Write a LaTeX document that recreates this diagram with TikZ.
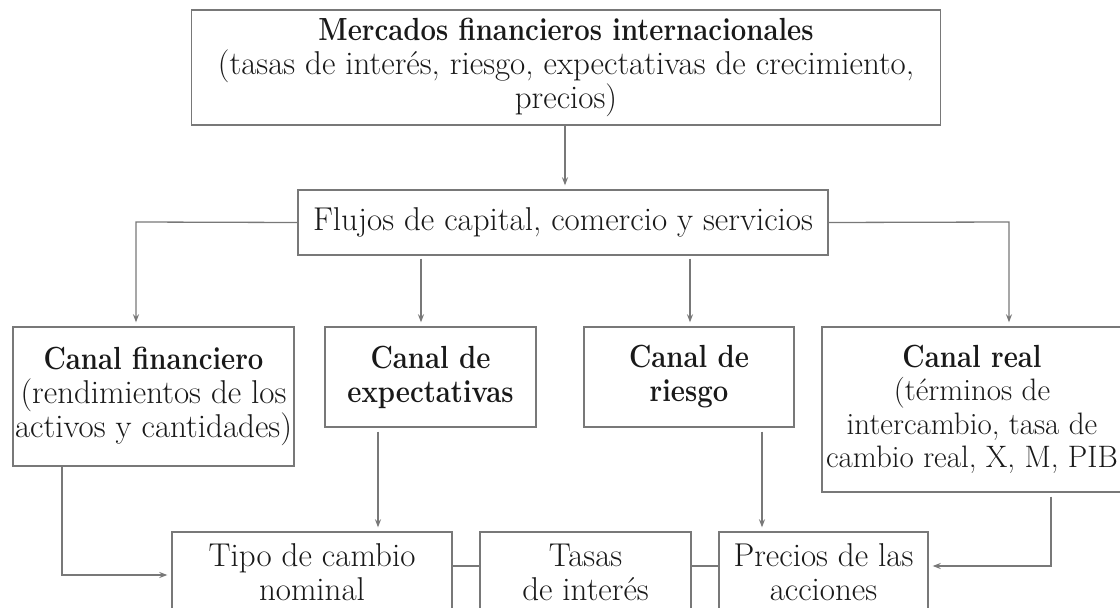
\documentclass[tikz,border=0pt]{standalone}
\usepackage{graphicx}
\usetikzlibrary{arrows.meta}
\definecolor{linegray}{RGB}{120,120,120}
\definecolor{textdark}{RGB}{25,25,25}
\newcommand{\hd}[1]{\scalebox{0.86}[1]{\fontsize{32}{34}\selectfont\bfseries #1}}
\begin{document}
\begin{tikzpicture}[x=1pt,y=-1pt,
  box/.style={draw=linegray, line width=1.4pt, inner sep=0pt, align=center,
    text=textdark, font=\fontsize{33}{34}\selectfont},
  conn/.style={draw=linegray, line width=1.3pt},
  arr/.style={conn, -{Stealth[length=8pt,width=6pt]}, shorten >=4pt},
]
\useasboundingbox (0,0) rectangle (1120,608);
\clip (0,0) rectangle (1120,608);
\fill[white] (0,0) rectangle (1120,608);

\node[box, minimum width=749pt, minimum height=115pt] (top) at (566,67.5)
  {\hd{Mercados financieros internacionales}\\(tasas de interés, riesgo, expectativas de crecimiento,\\precios)};
\node[box, minimum width=530pt, minimum height=65pt] (flujos) at (563,222.5)
  {Flujos de capital, comercio y servicios};

\node[box, minimum width=281pt, minimum height=139pt] (fin) at (153.5,396.5)
  {\hd{Canal financiero}\\(rendimientos de los\\activos y cantidades)};
\node[box, minimum width=211pt, minimum height=100pt] (exp) at (430.5,377)
  {\hd{Canal de}\\\hd{expectativas}};
\node[box, minimum width=210pt, minimum height=100pt] (rie) at (689,377)
  {\hd{Canal de}\\\hd{riesgo}};
\node[box, minimum width=300pt, minimum height=165pt, font=\fontsize{31}{33.5}\selectfont] (real) at (972,409.5)
  {\hd{Canal real}\\(términos de\\intercambio, tasa de\\cambio real, X, M, PIB};

\node[box, minimum width=280pt, minimum height=80pt] (tipo) at (312,572)
  {Tipo de cambio\\nominal};
\node[box, minimum width=211pt, minimum height=80pt] (tasas) at (585.5,572)
  {Tasas\\de interés};
\node[box, minimum width=209pt, minimum height=80pt] (prec) at (823.5,572)
  {Precios de las\\acciones};

% top to flujos
\draw[arr] (top.south -| 565,0) -- (flujos.north -| 565,0);
% flujos to channels
\coordinate (lt) at (136,222);
\coordinate (rt) at (1009,222);
\draw[arr] (flujos.west) -- (lt) -- (lt |- fin.north);
\draw[arr] (flujos.east) -- (rt) -- (rt |- real.north);
\draw[arr, shorten <=3pt] (flujos.south -| 421,0) -- (exp.north -| 421,0);
\draw[arr, shorten <=3pt] (flujos.south -| 690,0) -- (rie.north -| 690,0);
% channels to bottom
\coordinate (fl) at (62,575);
\draw[arr] (fin.south -| fl) -- (fl) -- (fl -| tipo.west);
\draw[arr, shorten <=4pt] (exp.south -| 378,0) -- (tipo.north -| 378,0);
\draw[arr, shorten <=4pt] (rie.south -| 762,0) -- (prec.north -| 762,0);
\coordinate (rl) at (1051,566);
\draw[arr, shorten <=4pt] (real.south -| rl) -- (rl) -- (rl -| prec.east);
% bottom links
\draw[conn] (tipo.east |- 0,566) -- (tasas.west |- 0,566);
\draw[conn] (tasas.east |- 0,566) -- (prec.west |- 0,566);
\end{tikzpicture}
\end{document}
